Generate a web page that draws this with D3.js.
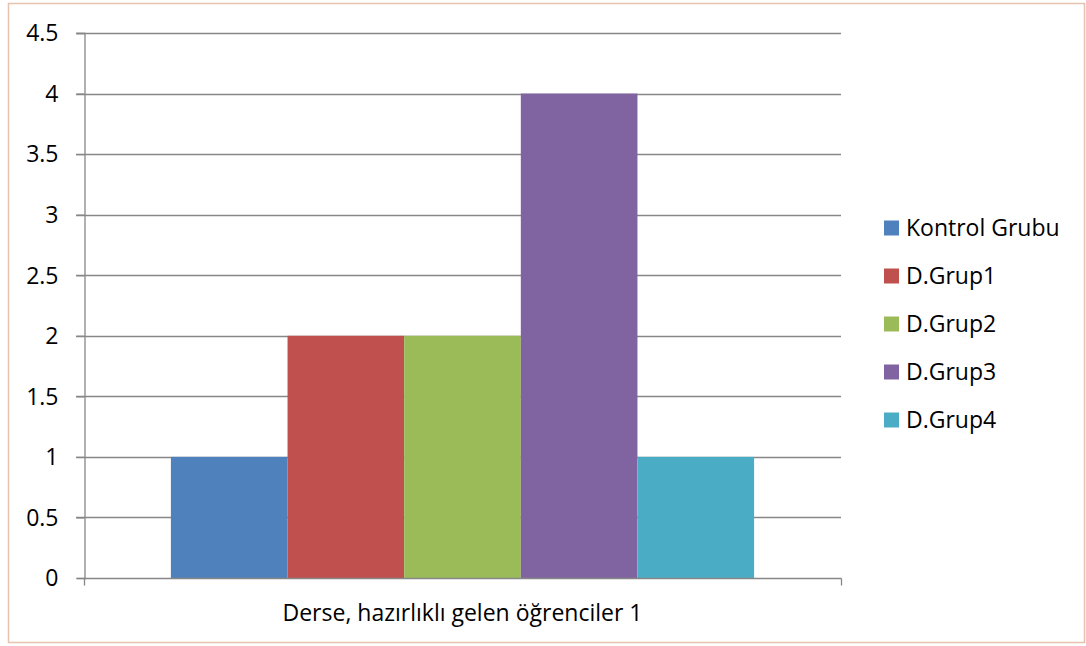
<!DOCTYPE html>
<html><head><meta charset="utf-8">
<script src="https://d3js.org/d3.v7.min.js"></script>
<style>body{margin:0;background:#fff}svg{display:block}text{font-family:"Open Sans",sans-serif;fill:#000}</style>
</head><body><svg id="c" width="1086" height="646"></svg>
<script>
const categories = ["Derse, hazırlıklı gelen öğrenciler 1"];
const series = ["Kontrol Grubu", "D.Grup1", "D.Grup2", "D.Grup3", "D.Grup4"];
const values = [1, 2, 2, 4, 1];
const colors = ["#4F81BD", "#C0504D", "#9BBB59", "#8064A2", "#4BACC6"];
const yTicks = [0, 0.5, 1, 1.5, 2, 2.5, 3, 3.5, 4, 4.5];

const FS = "23px";
const svg = d3.select("#c");
svg.append("rect").attr("x", 8.5).attr("y", 3.5).attr("width", 1076).attr("height", 639)
  .attr("fill", "#fff").attr("stroke", "#E6C3AE").attr("stroke-width", 1.5);

const L = 84, R = 841, T = 33, B = 578;
const y = d3.scaleLinear().domain([0, 4.5]).range([B, T]);
const x0 = d3.scaleBand().domain(categories).range([L, R]).paddingInner(0).paddingOuter(0.149);
const x1 = d3.scaleBand().domain(series).range([0, x0.bandwidth()]);

// gridlines
svg.append("g").selectAll("line").data(yTicks.filter(d => d > 0)).join("line")
  .attr("x1", L - 8).attr("x2", R).attr("y1", d => Math.round(y(d)) + 0.5).attr("y2", d => Math.round(y(d)) + 0.5)
  .attr("stroke", "#878787").attr("stroke-width", 1.3);

// bars
const g = svg.append("g").selectAll("g").data(categories).join("g")
  .attr("transform", d => `translate(${x0(d)},0)`);
g.selectAll("rect").data(series.map((s, i) => ({s, v: values[i], c: colors[i]}))).join("rect")
  .attr("x", d => x1(d.s)).attr("width", x1.bandwidth())
  .attr("y", d => y(d.v)).attr("height", d => y(0) - y(d.v)).attr("fill", d => d.c);

// y axis
const yAxis = d3.axisLeft(y).tickValues(yTicks).tickSize(8).tickPadding(18).tickFormat(d => String(d));
const ya = svg.append("g").attr("transform", `translate(${L + 0.5},0)`).call(yAxis);
ya.attr("font-size", null).attr("font-family", null);
ya.select(".domain").attr("stroke", "#878787").attr("stroke-width", 1.3);
ya.selectAll(".tick line").attr("stroke", "#878787").attr("stroke-width", 1.3);
ya.selectAll(".tick text").style("font-size", FS).attr("fill", "#000").attr("dy", "0.34em");

// x axis
const xa = svg.append("g").attr("transform", `translate(0,${B + 0.5})`);
xa.append("line").attr("x1", L).attr("x2", R + 0.5).attr("stroke", "#878787").attr("stroke-width", 1.3);
[L + 0.5, R + 0.5].forEach(px => xa.append("line").attr("x1", px).attr("x2", px).attr("y1", 0).attr("y2", 7)
  .attr("stroke", "#878787").attr("stroke-width", 1.3));
xa.selectAll("text.cat").data(categories).join("text").attr("class", "cat")
  .attr("x", d => x0(d) + x0.bandwidth() / 2).attr("y", 42.5).attr("text-anchor", "middle")
  .style("font-size", FS).text(d => d);

// legend
const lg = svg.append("g").attr("transform", "translate(884,228)");
const row = lg.selectAll("g").data(series).join("g").attr("transform", (d, i) => `translate(0,${i * 48})`);
row.append("rect").attr("x", 0).attr("y", -7.5).attr("width", 15).attr("height", 15).attr("fill", (d, i) => colors[i]);
row.append("text").attr("x", 22).attr("y", 0).attr("dy", "0.34em").style("font-size", FS).text(d => d);
</script></body></html>
